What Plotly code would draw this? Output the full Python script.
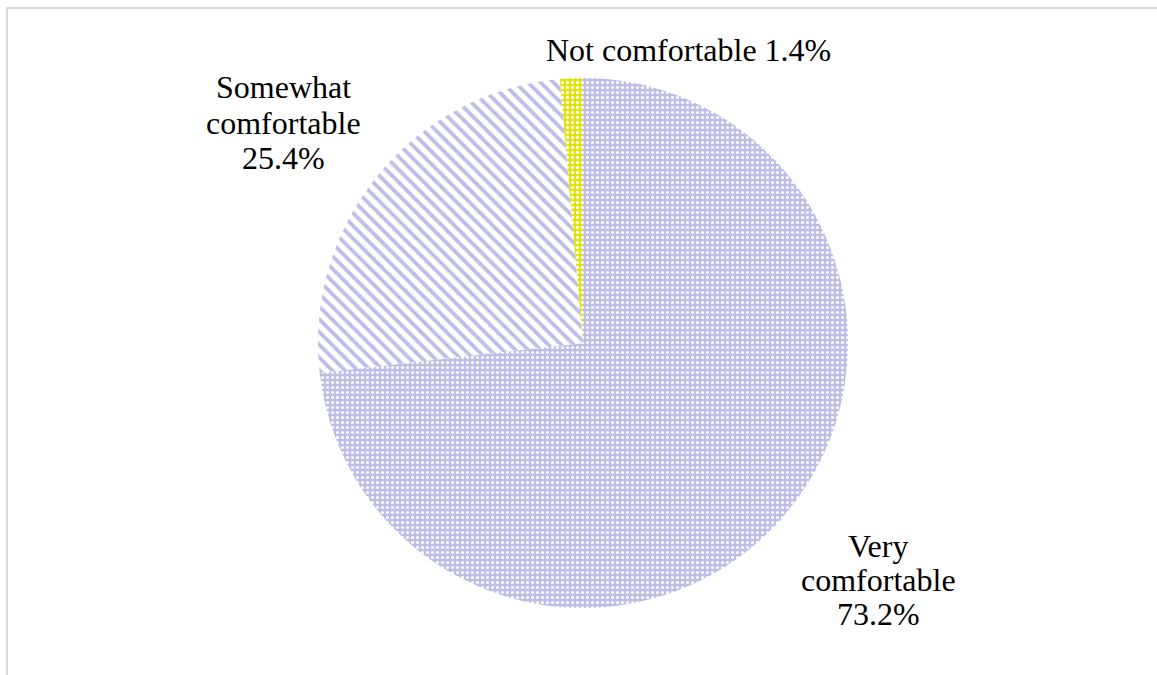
import plotly.graph_objects as go

# ---- data ----
labels = ["Very comfortable", "Somewhat comfortable", "Not comfortable"]
values = [73.2, 25.4, 1.4]
# label text lines (as shown on chart)
label_lines = [
    ["Very", "comfortable", "73.2%"],
    ["Somewhat", "comfortable", "25.4%"],
    ["Not comfortable 1.4%"],
]

# ---- styling ----
W, H = 1157, 675
lavender = "#bdbde7"
yellow = "#e2e200"
fg_colors = ["#ffffff", lavender, "#ffffff"]
bg_colors = [lavender, "#ffffff", yellow]
shapes_pat = [".", "\\", "."]
sizes_pat = [5, 9, 5]
solid_pat = [0.3, 0.42, 0.35]

# pie geometry in pixels
cx, cy, r = 583, 343, 265

fig = go.Figure(go.Pie(
    labels=labels,
    values=values,
    sort=False,
    direction="clockwise",
    rotation=0,
    textinfo="none",
    hoverinfo="label+percent",
    marker=dict(
        colors=bg_colors,
        line=dict(width=0),
        pattern=dict(
            shape=shapes_pat,
            fgcolor=fg_colors,
            bgcolor=bg_colors,
            size=sizes_pat,
            solidity=solid_pat,
            fillmode="replace",
        ),
    ),
    domain=dict(x=[(cx - r) / W, (cx + r) / W],
                y=[(H - cy - r) / H, (H - cy + r) / H]),
    showlegend=False,
))

# label positions (pixel centers of each line)
label_pos = [
    (878, [546, 580, 614]),
    (283, [87, 123, 158]),
    (688, [50]),
]
annotations = []
for lines, (x, ys) in zip(label_lines, label_pos):
    for line, y in zip(lines, ys):
        annotations.append(dict(
            x=x / W, y=1 - y / H, xref="paper", yref="paper",
            text=line, showarrow=False, xanchor="center", yanchor="middle",
            font=dict(family="Liberation Serif, Times New Roman, serif",
                      size=32, color="#000000"),
        ))

fig.update_layout(
    width=W, height=H,
    margin=dict(l=0, r=0, t=0, b=0),
    paper_bgcolor="#ffffff",
    plot_bgcolor="#ffffff",
    annotations=annotations,
    shapes=[dict(type="rect", xref="paper", yref="paper",
                 x0=7 / W, x1=1.02, y0=-0.02, y1=1 - 8 / H,
                 line=dict(color="#d9d9d9", width=2))],
)

fig.write_html("out.html")
